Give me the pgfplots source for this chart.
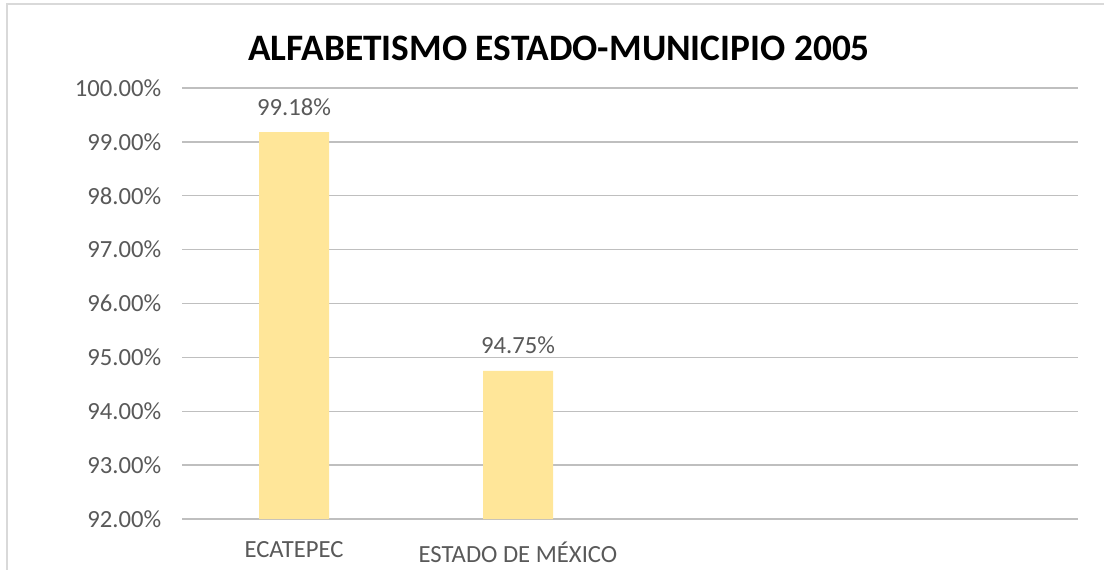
\documentclass[border=0pt]{standalone}
\usepackage{pgfplots}
\pgfplotsset{compat=1.18}
\usepackage{fontspec}
\setmainfont{Carlito}
\definecolor{txt}{HTML}{595959}
\definecolor{grid}{HTML}{D9D9D9}
\definecolor{bar}{HTML}{FFE699}
\begin{document}
\begin{tikzpicture}
\begin{scope}[x=0.75pt,y=0.75pt]
\useasboundingbox (0,0) rectangle (1104,569);
\draw[grid, line width=1.5] (7,-10) -- (7,565) -- (1120,565);
\node[font=\fontsize{28}{32}\selectfont\bfseries, text=black] at (559,521) {ALFABETISMO ESTADO-MUNICIPIO 2005};
\end{scope}
\begin{axis}[
  at={(136.5pt,37.5pt)}, anchor=south west,
  scale only axis, width=672pt, height=323.25pt,
  xmin=-0.5, xmax=3.5, ymin=92, ymax=100,
  xtick={0,1}, xticklabels={ECATEPEC, ESTADO DE MÉXICO},
  ytick={92,93,...,100},
  yticklabel={\pgfmathprintnumber[fixed,fixed zerofill,precision=2]{\tick}\%},
  /pgf/number format/assume math mode=true,
  ymajorgrids, xmajorgrids=false, major grid style={grid, line width=1.1pt},
  axis line style={draw=none},
  xtick style={draw=none}, ytick style={draw=none},
  tick label style={font=\fontsize{18.5}{22}\selectfont, text=txt},
  yticklabel style={xshift=-12pt},
  xticklabel style={yshift=-9pt},
  ybar, bar width=52.5pt,
  nodes near coords={\pgfmathprintnumber[fixed,fixed zerofill,precision=2]{\pgfplotspointmeta}\%},
  nodes near coords style={font=\fontsize{18.5}{22}\selectfont, text=txt, yshift=9pt},
  point meta=y,
  clip=false,
]
\addplot[fill=bar, draw=none] coordinates {(0,99.18) (1,94.75)};
\end{axis}
\end{tikzpicture}
\end{document}
